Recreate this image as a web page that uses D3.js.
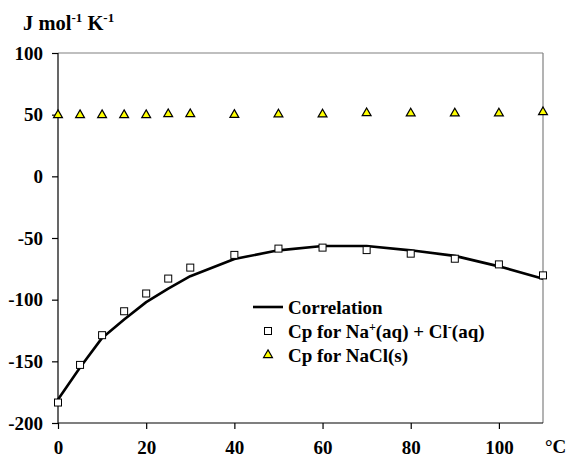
<!DOCTYPE html>
<html>
<head>
<meta charset="utf-8">
<script src="https://cdn.jsdelivr.net/npm/d3@7"></script>
<style>
  html, body { margin: 0; padding: 0; background: #fff; }
  svg { display: block; }
</style>
</head>
<body>
<script>
// Temperatures (°C) at which heat capacities were evaluated
const temperatures = [0, 5, 10, 15, 20, 25, 30, 40, 50, 60, 70, 80, 90, 100, 110];
// Cp for Na+(aq) + Cl-(aq), J mol-1 K-1
const cpIons = [-183.4, -152.9, -128.8, -109.4, -95, -82.9, -74, -63.7, -58.6, -57.8, -59.8, -62.7, -66.8, -71.4, -80.3];
// Correlation curve through the ionic Cp values
const cpCorrelation = [-181, -155, -131, -116, -102, -91, -81, -67, -60, -56.5, -56.5, -60, -64.5, -73, -83];
// Cp for solid NaCl
const cpSolid = [49.7, 49.7, 49.7, 49.7, 49.7, 50.5, 50.5, 49.9, 50.3, 50.3, 51.3, 51.1, 51.1, 51.1, 52.1];
// Axis ticks
const xTicks = [0, 20, 40, 60, 80, 100];
const yTicks = [-200, -150, -100, -50, 0, 50, 100];

const FONT = '"Liberation Serif", "Times New Roman", Times, serif';
const W = 575, H = 462;
const svg = d3.select("body").append("svg").attr("width", W).attr("height", H)
  .attr("font-family", FONT).attr("font-weight", "bold");

const x = d3.scaleLinear().domain([0, 110]).range([58, 543]);
const y = d3.scaleLinear().domain([-200, 100]).range([423, 53]);

function label(sel, size) {
  return sel.style("font-family", FONT).style("font-weight", "bold")
    .style("font-size", size + "px").attr("fill", "#000");
}

// plot-area frame: grey top and right edges
svg.append("line").attr("x1", x(0)).attr("x2", x(110)).attr("y1", y(100)).attr("y2", y(100))
  .attr("stroke", "#808080").attr("stroke-width", 1.2);
svg.append("line").attr("x1", x(110)).attr("x2", x(110)).attr("y1", y(100)).attr("y2", y(-200))
  .attr("stroke", "#808080").attr("stroke-width", 1.2);

// Y axis
const yAxis = svg.append("g").attr("transform", `translate(${x(0)},0)`)
  .call(d3.axisLeft(y).tickValues(yTicks).tickSize(6).tickPadding(9).tickFormat(d => String(d)));
// X axis
const xAxis = svg.append("g").attr("transform", `translate(0,${y(-200)})`)
  .call(d3.axisBottom(x).tickValues(xTicks).tickSize(6).tickPadding(12).tickFormat(d => String(d)));

[yAxis, xAxis].forEach(g => {
  g.attr("font-family", FONT);
  g.select(".domain").attr("stroke", "#000").attr("stroke-width", 1.2);
  g.selectAll(".tick line").attr("stroke", "#000").attr("stroke-width", 1.2);
  label(g.selectAll(".tick text"), 19);
});
// axis lines without outer tick stubs
xAxis.select(".domain").attr("d", `M${x(0)},0H${x(110)}`);
yAxis.select(".domain").attr("d", `M0,${y(100)}V${y(-200)}`);

// Unit labels
const yl = label(svg.append("text").attr("x", 23).attr("y", 30), 20.5);
yl.append("tspan").text("J mol");
yl.append("tspan").attr("dy", -8).style("font-size", "13px").text("-1");
yl.append("tspan").attr("dy", 8).text(" K");
yl.append("tspan").attr("dy", -8).style("font-size", "13px").text("-1");

label(svg.append("text").attr("x", 545).attr("y", 453), 19).text("°C");

// Correlation curve
const pts = temperatures.map((t, i) => [t, cpCorrelation[i]]);
svg.append("path").datum(pts)
  .attr("d", d3.line().x(d => x(d[0])).y(d => y(d[1])))
  .attr("fill", "none").attr("stroke", "#000").attr("stroke-width", 2.6).attr("stroke-linejoin", "round");

// Square markers: ionic Cp
const sq = 7;
svg.append("g").selectAll("rect").data(temperatures.map((t, i) => [t, cpIons[i]])).join("rect")
  .attr("x", d => x(d[0]) - sq / 2).attr("y", d => y(d[1]) - sq / 2)
  .attr("width", sq).attr("height", sq)
  .attr("fill", "#fff").attr("stroke", "#000").attr("stroke-width", 1);

// Triangle markers: solid NaCl Cp
const tri = d3.symbol().type(d3.symbolTriangle).size(34);
svg.append("g").selectAll("path").data(temperatures.map((t, i) => [t, cpSolid[i]])).join("path")
  .attr("d", tri)
  .attr("transform", d => `translate(${x(d[0])},${y(d[1])})`)
  .attr("fill", "#ffff00").attr("stroke", "#000").attr("stroke-width", 1.2);

// Legend
const lg = svg.append("g");
lg.append("line").attr("x1", 253).attr("x2", 283).attr("y1", 307).attr("y2", 307)
  .attr("stroke", "#000").attr("stroke-width", 2.6);
label(lg.append("text").attr("x", 288).attr("y", 314), 19).text("Correlation");

lg.append("rect").attr("x", 268 - sq / 2).attr("y", 331 - sq / 2).attr("width", sq).attr("height", sq)
  .attr("fill", "#fff").attr("stroke", "#000").attr("stroke-width", 1);
const t2 = label(lg.append("text").attr("x", 288).attr("y", 338), 19);
t2.append("tspan").text("Cp for Na");
t2.append("tspan").attr("dy", -7).style("font-size", "12px").text("+");
t2.append("tspan").attr("dy", 7).text("(aq) + Cl");
t2.append("tspan").attr("dy", -7).style("font-size", "12px").text("-");
t2.append("tspan").attr("dy", 7).text("(aq)");

lg.append("path").attr("d", tri).attr("transform", "translate(268,355)")
  .attr("fill", "#ffff00").attr("stroke", "#000").attr("stroke-width", 1.2);
label(lg.append("text").attr("x", 288).attr("y", 362), 19).text("Cp for NaCl(s)");
</script>
</body>
</html>
